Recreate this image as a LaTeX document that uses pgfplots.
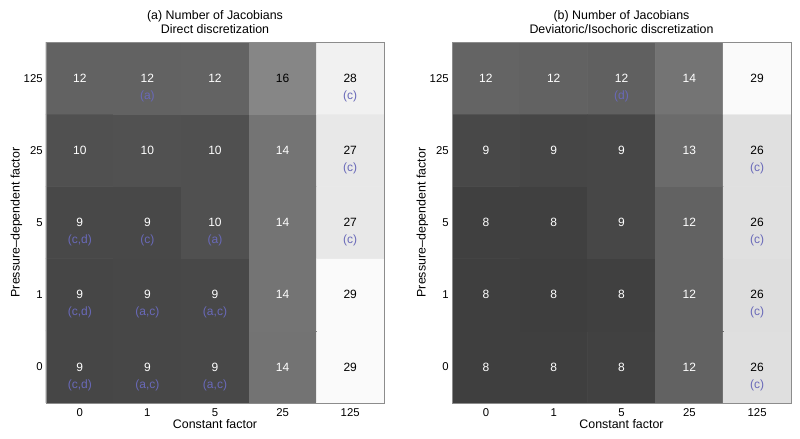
\documentclass[border=0pt]{standalone}
\usepackage{pgfplots}
\pgfplotsset{compat=1.18}
\usepackage{fontspec}
\setmainfont{Liberation Sans}
\definecolor{annot}{RGB}{105,105,185}
\definecolor{frame}{RGB}{140,140,140}
\pgfplotsset{
  hm/.style={
    scale only axis, height=270.75pt,
    xmin=-0.5, xmax=4.5, ymin=-0.5, ymax=4.5,
    xtick={0,...,4}, ytick={0,...,4},
    xticklabels={0,1,5,25,125}, yticklabels={0,1,5,25,125},
    major tick length=0pt, tick style={draw=none},
    axis line style={frame},
    ticklabel style={font=\fontsize{8.5}{10}\selectfont},
    xticklabel style={yshift=-1pt},
    yticklabel style={xshift=1pt},
    label style={font=\fontsize{9.3}{11}\selectfont},
    xlabel style={yshift=5pt},
    ylabel style={yshift=-5.75pt},
    title style={font=\fontsize{9.3}{10.5}\selectfont, align=center, yshift=-3.5pt},
    xlabel={Constant factor}, ylabel={Pressure–dependent factor},
    colormap={gr}{gray(0cm)=(0); gray(1cm)=(1)},
    point meta min=1, point meta max=29.8,
    axis on top,
    /pgf/number format/assume math mode=true,
  },
  lbl/.style={only marks, mark=*, mark size=0pt, mark options={draw=none,fill=none},
    point meta=explicit symbolic, nodes near coords,
    nodes near coords style={anchor=center, inner sep=0pt, font=\fontsize{9}{10}\selectfont, text=#1}},
}
\begin{document}
\begin{tikzpicture}
\path[use as bounding box] (0,0) rectangle (600pt,329.25pt);
\begin{axis}[hm, at={(34.5pt,27pt)}, anchor=south west, width=253.5pt,
  title={(a) Number of Jacobians\\Direct discretization}]
\addplot[matrix plot*, mesh/cols=5, point meta=explicit] table[meta=c]{
x y c
0 0 8.9
1 0 9.0
2 0 9.1
3 0 13.85
4 0 29
0 1 8.9
1 1 9.0
2 1 9.1
3 1 14
4 1 29
0 2 9.05
1 2 9.05
2 2 10
3 2 14
4 2 27
0 3 10
1 3 10.05
2 3 10
3 3 14
4 3 27
0 4 12
1 4 12
2 4 12.1
3 4 16
4 4 28
};
\addplot[lbl=white] table[meta=l]{
x y l
0 0 9
1 0 9
2 0 9
3 0 14
0 1 9
1 1 9
2 1 9
3 1 14
0 2 9
1 2 9
2 2 10
3 2 14
0 3 10
1 3 10
2 3 10
3 3 14
0 4 12
1 4 12
2 4 12
};
\addplot[lbl=black] table[meta=l]{
x y l
3 4 16
4 4 28
4 3 27
4 2 27
4 1 29
4 0 29
};
\addplot[lbl=annot] table[meta=l]{
x y l
1 3.75 (a)
4 3.75 (c)
4 2.75 (c)
0 1.75 (c,d)
1 1.75 (c)
2 1.75 (a)
4 1.75 (c)
0 0.75 (c,d)
1 0.75 (a,c)
2 0.75 (a,c)
0 -0.25 (c,d)
1 -0.25 (a,c)
2 -0.25 (a,c)
};
\end{axis}
\begin{axis}[hm, at={(339pt,27pt)}, anchor=south west, width=254.25pt,
  title={(b) Number of Jacobians\\Deviatoric/Isochoric discretization}]
\addplot[matrix plot*, mesh/cols=5, point meta=explicit] table[meta=c]{
x y c
0 0 8.1
1 0 8.1
2 0 8.3
3 0 12
4 0 26
0 1 8.1
1 1 7.9
2 1 8.2
3 1 12
4 1 25.9
0 2 8.2
1 2 8.2
2 2 9
3 2 12
4 2 26.1
0 3 9.1
1 3 8.9
2 3 9
3 3 13
4 3 26.1
0 4 12.2
1 4 12
2 4 11.8
3 4 14
4 4 29
};
\addplot[lbl=white] table[meta=l]{
x y l
0 0 8
1 0 8
2 0 8
3 0 12
0 1 8
1 1 8
2 1 8
3 1 12
0 2 8
1 2 8
2 2 9
3 2 12
0 3 9
1 3 9
2 3 9
3 3 13
0 4 12
1 4 12
2 4 12
3 4 14
};
\addplot[lbl=black] table[meta=l]{
x y l
4 0 26
4 1 26
4 2 26
4 3 26
4 4 29
};
\addplot[lbl=annot] table[meta=l]{
x y l
2 3.75 (d)
4 2.75 (c)
4 1.75 (c)
4 0.75 (c)
4 -0.25 (c)
};
\end{axis}
\end{tikzpicture}
\end{document}
